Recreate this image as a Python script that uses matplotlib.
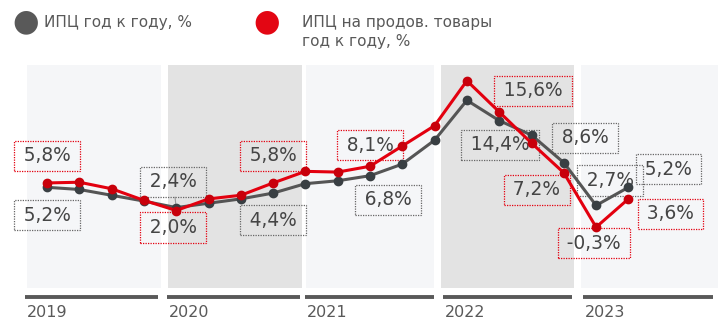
import matplotlib
matplotlib.use("Agg")
import matplotlib.pyplot as plt
from matplotlib.patches import Rectangle

plt.rcParams["font.family"] = ["DejaVu Sans"]

# quarterly series, % y/y
years = ["2019", "2020", "2021", "2022", "2023"]
cpi = [5.2, 4.9, 4.1, 3.3, 2.4, 3.0, 3.6, 4.4, 5.7, 6.1, 6.8, 8.4, 11.7, 17.2, 14.4, 12.4, 8.6, 2.7, 5.2]
food = [5.8, 5.9, 5.0, 3.4, 2.0, 3.6, 4.1, 5.8, 7.4, 7.3, 8.1, 10.9, 13.7, 19.9, 15.6, 11.3, 7.2, -0.3, 3.6]
labeled = [0, 4, 7, 10, 14, 16, 17, 18]

# label box offsets from the point, in pixels
cpi_offsets = [(0, -28), (-3, 26), (0, -27), (18, -24), (1, -24), (21, 25), (14, 25), (40, 18)]
food_offsets = [(0, 27), (-3, -17), (0, 27), (0, 21), (34, 21), (-27, -17), (-2, -16), (42, -15)]

# year blocks: band start/end and underline start/end, in quarter units
band_spans = [(-0.62, 3.53), (3.75, 7.89), (8.02, 11.98), (12.20, 16.32), (16.53, 20.8)]
line_spans = [(-0.68, 3.44), (3.72, 7.83), (7.99, 11.98), (12.26, 16.25), (16.59, 20.62)]
band_colors = ["#f5f6f8", "#e3e3e3", "#f5f6f8", "#e3e3e3", "#f5f6f8"]

GRAY = "#555555"
GRAY_DOT = "#393f43"
RED = "#e3000f"
RED_DOT = "#c8000b"
TXT = "#595959"

fig = plt.figure(figsize=(7.18, 3.25), dpi=100)
ax = fig.add_axes([0, 0, 1, 1])
ax.set_xlim(-47 / 32.3, (718 - 47) / 32.3)
ax.set_ylim(-100 / 7.25, 225 / 7.25)
ax.axis("off")

for (a, b), c in zip(band_spans, band_colors):
    ax.add_patch(Rectangle((a, -8.69), b - a, 22.07 + 8.69, color=c, lw=0, zorder=0))

for (a, b), yr in zip(line_spans, years):
    ax.plot([a, b], [-9.93, -9.93], color=TXT, lw=2.8, solid_capstyle="butt")
    ax.text(a + 0.06, -12.1, yr, fontsize=11.5, color=TXT, va="center", ha="left")

x = list(range(len(cpi)))
ax.plot(x, cpi, color=GRAY, lw=2.2, zorder=3)
ax.plot(x, cpi, "o", color=GRAY_DOT, ms=6, zorder=4)
ax.plot(x, food, color=RED, lw=2.2, zorder=5)
ax.plot(x, food, "o", color=RED_DOT, ms=6, zorder=6)


def fmt(v):
    return "\u2009" + f"{v:.1f}%".replace(".", ",") + "\u2009"


for series, offsets, edge in [(cpi, cpi_offsets, "#666666"), (food, food_offsets, RED)]:
    for i, (dx, dy) in zip(labeled, offsets):
        arrow = None
        if series is cpi and i == 4:
            arrow = dict(arrowstyle="-", color="#999999", lw=0.8, shrinkA=0, shrinkB=3)
        ax.annotate(fmt(series[i]), (i, series[i]), xytext=(dx, dy),
                    textcoords="offset pixels", ha="center", va="center",
                    fontsize=13.4, color="#454545", zorder=2,
                    bbox=dict(boxstyle="square,pad=0.3", fc="none", ec=edge,
                              ls=(0, (1, 1)), lw=0.9),
                    arrowprops=arrow)

# legend
fig.text(26 / 718, 1 - 22 / 325, "\u25cf", fontsize=22, color="#595959", ha="center", va="center")
fig.text(44 / 718, 1 - 22 / 325, "ИПЦ год к году, %", fontsize=11, color=TXT, va="center")
fig.text(267 / 718, 1 - 22 / 325, "\u25cf", fontsize=22, color="#e30613", ha="center", va="center")
fig.text(302 / 718, 1 - 32 / 325, "ИПЦ на продов. товары\nгод к году, %", fontsize=11,
         color=TXT, va="center", linespacing=1.3)

fig.savefig("out.png", dpi=100)
